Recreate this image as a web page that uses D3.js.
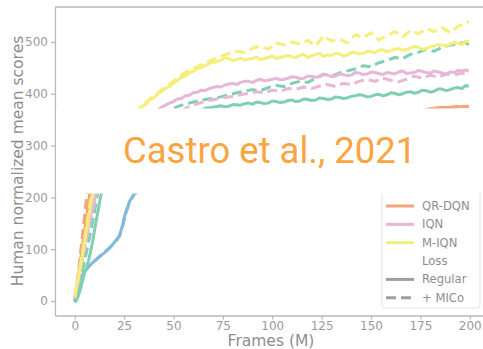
<!DOCTYPE html>
<html><head><meta charset="utf-8">
<script src="https://cdn.jsdelivr.net/npm/d3@7"></script>
<style>body{margin:0;background:#fff}svg{display:block}</style>
</head><body>
<script>
// ---- data (frames in millions, human normalized mean score) ----
const xTicks = [0, 25, 50, 75, 100, 125, 150, 175, 200];
const yTicks = [0, 100, 200, 300, 400, 500];
const agents = ["DQN", "Rainbow", "QR-DQN", "IQN", "M-IQN"];
const legendAgents = ["QR-DQN", "IQN", "M-IQN"];
const legendLoss = ["Regular", "+ MICo"];

const dqnRegular = [[0,0],[1,10],[2,25],[2.5,37],[3.5,48],[5,57],[7,66],[9,74],[11,80],[13,87],[15,93],[17.6,102],[19,108],[21,118],[22.5,125],[23.5,137],[24.5,150],[25.2,164],[26,172],[27,182],[27.7,192],[29,200],[30.2,207],[32,212]];
const dqnMico = [[0,0],[2,30],[4,50],[6,62],[9,74],[12,84],[15,94],[18,104],[21,116],[23,128],[24.3,145],[25.3,162],[26.4,178],[28,192],[30,206],[32,212]];
const rainbowRegular = [[0,-3],[1,2],[2,12],[3,25],[4,40],[5,55],[6,66],[7,78],[8,96],[9,113],[10,136],[11,158],[12,178],[13,200],[14,215],
  [66,372],[70,374],[74,377],[76,375],[78,376],[80,379],[82,379],[84,378],[86,381],[88,382],[90,380],[92,384],[94,383],[96,381],[98,382],[100,386],[102,385],[104,383],[106,384],[108,387],[110,388],[112,385],[114,386],[116,390],[118,389],[120,387],[122,388],[124,392],[126,391],[128,389],[130,390],[132,394],[134,393],[136,391],[138,392],[140,395],[142,396],[144,398],[146,397],[148,394],[150,395],[152,398],[154,399],[156,396],[158,398],[160,402],[162,401],[164,398],[166,400],[168,403],[170,404],[172,401],[174,403],[176,407],[178,406],[180,403],[182,405],[184,409],[186,409],[188,406],[190,408],[192,411],[194,412],[196,410],[198,416],[199.5,414]];
const rainbowMico = [[0,0],[2,30],[4,62],[6,95],[8,132],[10,172],[11.5,206],[12,215],
  [50,372],[54,378],[58,382],[62,386],[66,389],[70,391],[74,394],[78,398],[82,402],[86,405],[90,408],[94,406],[98,412],[102,416],[106,414],[110,420],[114,424],[118,422],[122,430],[126,438],[130,434],[134,440],[138,444],[142,448],[146,454],[150,452],[154,460],[158,464],[162,470],[166,468],[170,476],[174,480],[178,486],[182,482],[186,490],[190,494],[194,496],[198,500],[199.5,493]];
const qrRegular = [[0,5],[1,25],[2,52],[3,80],[4,108],[5,135],[6,162],[7,190],[7.7,210],
  [180,371],[185,373],[190,374],[195,375],[199.5,376]];
const qrMico = [[0,5],[1,30],[2,60],[3,95],[4,130],[5,165],[6,200],[6.5,215],
  [182,371],[186,374],[190,373],[194,376],[199.5,375]];
const iqnRegular = [[0,5],[2,45],[4,88],[6,128],[8,165],[10,195],[11,212],
  [43,372],[46,378],[48,382],[50,385],[52,390],[54,391],[56,396],[58,397],[60,402],[62,403],[64,407],[66,406],[68,410],[70,412],[72,414],[74,413],[76,417],[78,419],[80,420],[82,418],[84,422],[86,424],[88,424],[90,422],[92,426],[94,428],[96,425],[98,426],[100,428],[102,430],[104,427],[106,428],[108,430],[110,433],[112,432],[114,429],[116,430],[118,434],[120,434],[122,432],[124,433],[126,437],[128,436],[130,433],[132,434],[134,438],[136,437],[138,435],[140,436],[142,441],[144,440],[146,437],[148,438],[150,442],[152,441],[154,439],[156,437],[158,441],[160,440],[162,438],[164,442],[166,444],[168,439],[170,440],[172,441],[174,445],[176,443],[178,441],[180,440],[182,444],[184,442],[186,440],[188,438],[190,442],[192,441],[194,445],[196,444],[198,446],[199.5,443]];
const iqnMico = [[0,5],[2,42],[4,82],[6,120],[8,158],[10,190],[11,210],
  [56,372],[60,378],[64,383],[68,387],[72,390],[76,393],[80,395],[84,398],[88,401],[92,404],[96,402],[100,407],[104,405],[108,410],[112,409],[116,413],[120,410],[124,415],[128,418],[132,414],[136,420],[140,418],[144,424],[148,428],[152,424],[156,430],[160,426],[164,423],[168,428],[172,434],[176,430],[180,436],[184,432],[188,438],[192,436],[196,440],[199.5,438]];
const miqnRegular = [[0,8],[1,28],[2,48],[3,70],[4,92],[5,115],[6,138],[7,160],[8,184],[9,206],[9.5,215],
  [33,372],[36,380],[38,388],[40,392],[42,400],[44,404],[46,411],[48,414],[50,421],[52,425],[54,432],[56,434],[58,441],[60,443],[62,449],[64,450],[66,455],[68,458],[70,461],[72,462],[74,465],[76,469],[78,468],[80,464],[82,466],[84,469],[86,465],[88,467],[90,468],[92,471],[94,466],[96,468],[98,470],[100,473],[102,468],[104,470],[106,472],[108,474],[110,471],[112,470],[114,474],[116,476],[118,470],[120,473],[122,476],[124,478],[126,472],[128,475],[130,474],[132,478],[134,477],[136,473],[138,475],[140,479],[142,480],[144,477],[146,478],[148,482],[150,481],[152,479],[154,484],[156,485],[158,481],[160,483],[162,486],[164,487],[166,484],[168,486],[170,488],[172,491],[174,490],[176,486],[178,487],[180,491],[182,492],[184,495],[186,494],[188,492],[190,496],[192,499],[194,498],[196,495],[198,502],[199.5,501]];
const miqnMico = [[0,8],[2,50],[4,96],[6,145],[8,195],[8.5,210],
  [33,373],[38,390],[42,402],[46,413],[50,424],[54,436],[58,446],[62,452],[66,460],[70,466],[74,472],[78,478],[82,482],[86,480],[90,488],[94,492],[98,486],[102,498],[106,494],[110,500],[114,496],[118,503],[122,492],[126,512],[130,502],[134,506],[138,498],[142,514],[146,508],[150,518],[154,504],[158,512],[162,520],[166,510],[170,522],[174,516],[178,526],[182,520],[186,528],[190,518],[194,530],[198,536],[199.5,540]];

const seriesList = [
  {agent:"DQN", loss:"Regular", values:dqnRegular},
  {agent:"DQN", loss:"+ MICo", values:dqnMico},
  {agent:"Rainbow", loss:"Regular", values:rainbowRegular},
  {agent:"Rainbow", loss:"+ MICo", values:rainbowMico},
  {agent:"QR-DQN", loss:"Regular", values:qrRegular},
  {agent:"QR-DQN", loss:"+ MICo", values:qrMico},
  {agent:"IQN", loss:"Regular", values:iqnRegular},
  {agent:"IQN", loss:"+ MICo", values:iqnMico},
  {agent:"M-IQN", loss:"Regular", values:miqnRegular},
  {agent:"M-IQN", loss:"+ MICo", values:miqnMico}
];
const overlayText = "Castro et al., 2021";

// ---- drawing ----
const W = 483, H = 349;
const svg = d3.select("body").append("svg").attr("width", W).attr("height", H);
const color = d3.scaleOrdinal().domain(agents).range(["#83b9dc","#7fd0b2","#f3a67b","#e8b6d6","#f5ee7a"]);
const x = d3.scaleLinear().domain([-10, 210]).range([55, 489.5]);
const y = d3.scaleLinear().domain([-28, 567.5]).range([315.5, 7]);
const grey = "#9a9a9a", spine = "#b8b8b8";

svg.append("clipPath").attr("id","clip").append("rect")
  .attr("x", x.range()[0]).attr("y", y.range()[1])
  .attr("width", x.range()[1]-x.range()[0]).attr("height", y.range()[0]-y.range()[1]);

const line = d3.line().x(d => x(d[0])).y(d => y(d[1]));
const g = svg.append("g").attr("clip-path","url(#clip)");
seriesList.forEach(s => {
  g.append("path").datum(s.values).attr("d", line)
    .attr("fill","none").attr("stroke", color(s.agent))
    .attr("stroke-width", 3).attr("stroke-linejoin","round")
    .attr("stroke-dasharray", s.loss === "Regular" ? null : "10,5");
});

// axes
const xAxis = svg.append("g").attr("transform",`translate(0,${y.range()[0]})`)
  .call(d3.axisBottom(x).tickValues(xTicks).tickSize(4).tickSizeOuter(0).tickPadding(2));
const yAxis = svg.append("g").attr("transform",`translate(${x.range()[0]},0)`)
  .call(d3.axisLeft(y).tickValues(yTicks).tickSize(4).tickSizeOuter(0).tickPadding(3));
[xAxis, yAxis].forEach(a => {
  a.select(".domain").attr("stroke", spine).attr("stroke-width", 1.3);
  a.selectAll(".tick line").attr("stroke", spine).attr("stroke-width", 1.2);
  a.selectAll(".tick text").attr("fill", grey).style("font-family","DejaVu Sans").style("font-size","12px");
});
// top spine
svg.append("line").attr("x1", x.range()[0]).attr("x2", x.range()[1])
  .attr("y1", y.range()[1]).attr("y2", y.range()[1]).attr("stroke", spine).attr("stroke-width",1.3);

// axis labels
svg.append("text").attr("x", 271).attr("y", 346).attr("text-anchor","middle")
  .attr("fill", "#8e8e8e").style("font-family","DejaVu Sans").style("font-size","15.5px").text("Frames (M)");
svg.append("text").attr("transform","translate(23.3,161) rotate(-90)").attr("text-anchor","middle")
  .attr("fill", "#8e8e8e").style("font-family","DejaVu Sans").style("font-size","15.5px").text("Human normalized mean scores");

// legend
const lg = svg.append("g");
lg.append("rect").attr("x", 382).attr("y", 150).attr("width", 98).attr("height", 158)
  .attr("rx", 3).attr("fill","#fff").attr("stroke","#e2e2e2").attr("stroke-width",1);
const rows = legendAgents.map(a => ({label:a, color:color(a), dash:null}))
  .concat([{label:"Loss", color:null, dash:null}])
  .concat(legendLoss.map(l => ({label:l, color:"#9e9e9e", dash: l === "Regular" ? null : "10,5"})));
rows.forEach((r, i) => {
  const yy = 206 + i*18.35;
  if (r.color) lg.append("line").attr("x1",386).attr("x2",414).attr("y1",yy).attr("y2",yy)
    .attr("stroke", r.color).attr("stroke-width",3).attr("stroke-dasharray", r.dash);
  lg.append("text").attr("x",422).attr("y",yy).attr("dy","0.35em").attr("fill","#8e8e8e")
    .style("font-family","DejaVu Sans").style("font-size","11.6px").text(r.label);
});

// white overlay band with citation
svg.append("rect").attr("x", 56).attr("y", 108.5).attr("width", W-56).attr("height", 85).attr("fill","#fff");
svg.append("text").attr("x", 123).attr("y", 163).attr("fill","#fca43f")
  .style("font-family","Roboto").style("font-size","36.5px").text(overlayText);
</script>
</body></html>
